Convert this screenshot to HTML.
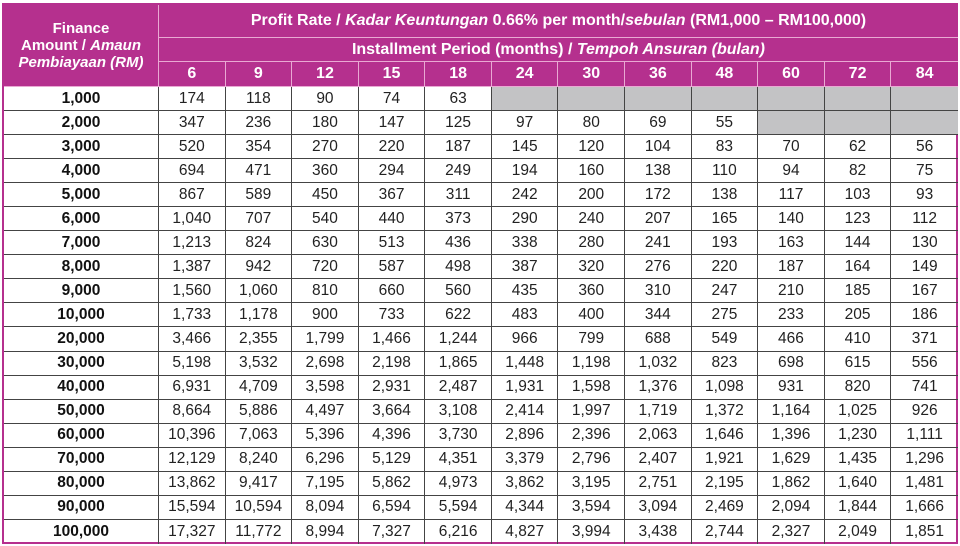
<!DOCTYPE html>
<html><head><meta charset="utf-8"><style>
html,body{margin:0;padding:0;background:#fff;width:960px;height:546px;overflow:hidden}
.t{position:absolute;left:2px;top:3px;width:956px;height:541px;box-sizing:border-box;border:2px solid #b5308e;display:grid;
grid-template-columns:155px repeat(12,66.58px);grid-template-rows:33px 24px 25px repeat(19,24.05px);font-family:"Liberation Sans",Arial,sans-serif;}
.t>div{box-sizing:border-box;display:flex;align-items:center;justify-content:center;white-space:nowrap;overflow:hidden;border-right:1px solid #444;border-bottom:1px solid #444;font-size:15.5px;color:#222}
.t>div.h{background:#b5308e;color:#fff;font-weight:bold;border-color:#e9a9d3;font-size:16px}
.t>div.b{font-weight:bold;color:#111}
.t>div.g{background:#c3c3c5}
.t>div.r{border-right:none}
.t>div.fa{grid-row:1/4;grid-column:1;font-size:15px}
.fa span{display:block;text-align:center;line-height:17px;white-space:normal}
.p{grid-column:2/14}
</style></head><body>
<div class="t">
<div class="h fa"><span>Finance<br>Amount / <i>Amaun</i><br><i>Pembiayaan (RM)</i></span></div>
<div class="h p r"><span>Profit Rate / <i>Kadar Keuntungan</i> 0.66% per month/<i>sebulan</i> (RM1,000 – RM100,000)</span></div>
<div class="h p r"><span>Installment Period (months) / <i>Tempoh Ansuran (bulan)</i></span></div>
<div class="h">6</div><div class="h">9</div><div class="h">12</div><div class="h">15</div><div class="h">18</div><div class="h">24</div><div class="h">30</div><div class="h">36</div><div class="h">48</div><div class="h">60</div><div class="h">72</div><div class="h r">84</div>
<div class="b">1,000</div><div>174</div><div>118</div><div>90</div><div>74</div><div>63</div><div class="g"></div><div class="g"></div><div class="g"></div><div class="g"></div><div class="g"></div><div class="g"></div><div class="g r"></div>
<div class="b">2,000</div><div>347</div><div>236</div><div>180</div><div>147</div><div>125</div><div>97</div><div>80</div><div>69</div><div>55</div><div class="g"></div><div class="g"></div><div class="g r"></div>
<div class="b">3,000</div><div>520</div><div>354</div><div>270</div><div>220</div><div>187</div><div>145</div><div>120</div><div>104</div><div>83</div><div>70</div><div>62</div><div class="r">56</div>
<div class="b">4,000</div><div>694</div><div>471</div><div>360</div><div>294</div><div>249</div><div>194</div><div>160</div><div>138</div><div>110</div><div>94</div><div>82</div><div class="r">75</div>
<div class="b">5,000</div><div>867</div><div>589</div><div>450</div><div>367</div><div>311</div><div>242</div><div>200</div><div>172</div><div>138</div><div>117</div><div>103</div><div class="r">93</div>
<div class="b">6,000</div><div>1,040</div><div>707</div><div>540</div><div>440</div><div>373</div><div>290</div><div>240</div><div>207</div><div>165</div><div>140</div><div>123</div><div class="r">112</div>
<div class="b">7,000</div><div>1,213</div><div>824</div><div>630</div><div>513</div><div>436</div><div>338</div><div>280</div><div>241</div><div>193</div><div>163</div><div>144</div><div class="r">130</div>
<div class="b">8,000</div><div>1,387</div><div>942</div><div>720</div><div>587</div><div>498</div><div>387</div><div>320</div><div>276</div><div>220</div><div>187</div><div>164</div><div class="r">149</div>
<div class="b">9,000</div><div>1,560</div><div>1,060</div><div>810</div><div>660</div><div>560</div><div>435</div><div>360</div><div>310</div><div>247</div><div>210</div><div>185</div><div class="r">167</div>
<div class="b">10,000</div><div>1,733</div><div>1,178</div><div>900</div><div>733</div><div>622</div><div>483</div><div>400</div><div>344</div><div>275</div><div>233</div><div>205</div><div class="r">186</div>
<div class="b">20,000</div><div>3,466</div><div>2,355</div><div>1,799</div><div>1,466</div><div>1,244</div><div>966</div><div>799</div><div>688</div><div>549</div><div>466</div><div>410</div><div class="r">371</div>
<div class="b">30,000</div><div>5,198</div><div>3,532</div><div>2,698</div><div>2,198</div><div>1,865</div><div>1,448</div><div>1,198</div><div>1,032</div><div>823</div><div>698</div><div>615</div><div class="r">556</div>
<div class="b">40,000</div><div>6,931</div><div>4,709</div><div>3,598</div><div>2,931</div><div>2,487</div><div>1,931</div><div>1,598</div><div>1,376</div><div>1,098</div><div>931</div><div>820</div><div class="r">741</div>
<div class="b">50,000</div><div>8,664</div><div>5,886</div><div>4,497</div><div>3,664</div><div>3,108</div><div>2,414</div><div>1,997</div><div>1,719</div><div>1,372</div><div>1,164</div><div>1,025</div><div class="r">926</div>
<div class="b">60,000</div><div>10,396</div><div>7,063</div><div>5,396</div><div>4,396</div><div>3,730</div><div>2,896</div><div>2,396</div><div>2,063</div><div>1,646</div><div>1,396</div><div>1,230</div><div class="r">1,111</div>
<div class="b">70,000</div><div>12,129</div><div>8,240</div><div>6,296</div><div>5,129</div><div>4,351</div><div>3,379</div><div>2,796</div><div>2,407</div><div>1,921</div><div>1,629</div><div>1,435</div><div class="r">1,296</div>
<div class="b">80,000</div><div>13,862</div><div>9,417</div><div>7,195</div><div>5,862</div><div>4,973</div><div>3,862</div><div>3,195</div><div>2,751</div><div>2,195</div><div>1,862</div><div>1,640</div><div class="r">1,481</div>
<div class="b">90,000</div><div>15,594</div><div>10,594</div><div>8,094</div><div>6,594</div><div>5,594</div><div>4,344</div><div>3,594</div><div>3,094</div><div>2,469</div><div>2,094</div><div>1,844</div><div class="r">1,666</div>
<div class="b" style="border-bottom:none">100,000</div><div style="border-bottom:none">17,327</div><div style="border-bottom:none">11,772</div><div style="border-bottom:none">8,994</div><div style="border-bottom:none">7,327</div><div style="border-bottom:none">6,216</div><div style="border-bottom:none">4,827</div><div style="border-bottom:none">3,994</div><div style="border-bottom:none">3,438</div><div style="border-bottom:none">2,744</div><div style="border-bottom:none">2,327</div><div style="border-bottom:none">2,049</div><div class="r" style="border-bottom:none">1,851</div>
</div>
</body></html>
